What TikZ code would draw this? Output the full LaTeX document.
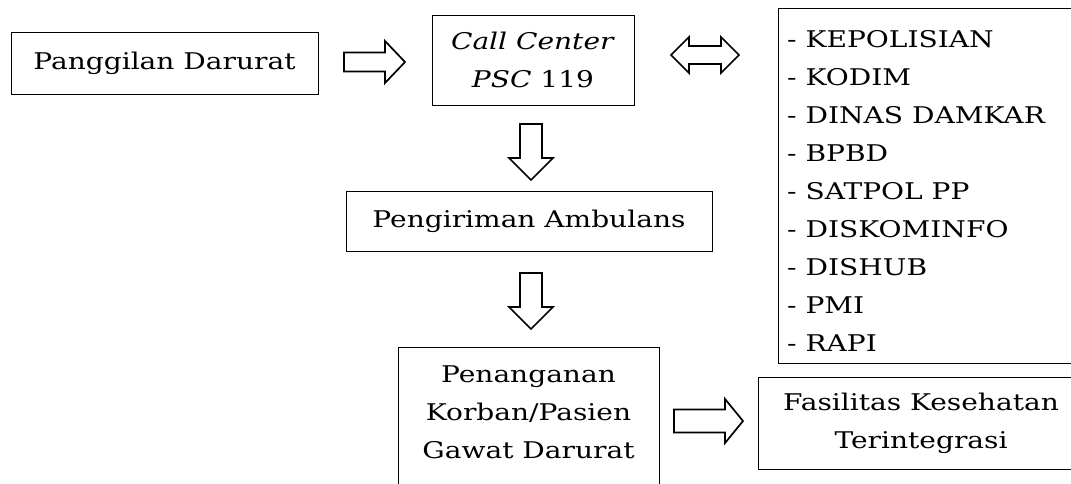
\documentclass[tikz,border=0pt]{standalone}
\usepackage{fontspec}
\setmainfont[FakeStretch=1.22]{DejaVu Serif}
\begin{document}
\begin{tikzpicture}[x=1pt,y=-1pt,
  box/.style={draw, line width=1pt, inner sep=0pt, align=center},
  txt/.style={inner sep=0pt},
  blk/.style={draw, line width=1.7pt, line join=miter},
  font=\fontsize{23}{38}\selectfont]
\useasboundingbox (0,0) rectangle (1071,483);
\clip (0,0) rectangle (1071,483);
% boxes
\node[box, minimum width=307pt, minimum height=62pt] (pd) at (164.5,63) {Panggilan Darurat};
\node[box, minimum width=202pt, minimum height=90pt] (cc) at (533,60) {\textit{Call Center}\\\textit{PSC} 119};
\node[box, minimum width=320pt, minimum height=355pt] (lst) at (938,185.5) {};
\node[txt, anchor=north west, align=left] (lsttext) at (787,30) {- KEPOLISIAN\\- KODIM\\- DINAS DAMKAR\\- BPBD\\- SATPOL PP\\- DISKOMINFO\\- DISHUB\\- PMI\\- RAPI};
\node[box, minimum width=366pt, minimum height=60pt] (pa) at (529,221) {Pengiriman Ambulans};
\node[box, minimum width=261pt, minimum height=146pt] (pk) at (528.5,420) {};
\node[txt, anchor=north, align=center] (pktext) at (528.5,366) {Penanganan\\Korban/Pasien\\Gawat Darurat};
\node[box, minimum width=326pt, minimum height=92pt] (fk) at (921,423) {Fasilitas Kesehatan\\Terintegrasi};
% block arrows
\draw[blk] (344,52.5) -- (385,52.5) -- (385,41) -- (405,62) -- (385,83) -- (385,71.5) -- (344,71.5) -- cycle;
\draw[blk] (671,55) -- (689,37) -- (689,46) -- (721,46) -- (721,37) -- (739,55) -- (721,73) -- (721,64) -- (689,64) -- (689,73) -- cycle;
\draw[blk] (520,124) -- (542,124) -- (542,158) -- (553,158) -- (531,180) -- (509,158) -- (520,158) -- cycle;
\draw[blk] (520,273) -- (542,273) -- (542,307) -- (553,307) -- (531,329) -- (509,307) -- (520,307) -- cycle;
\draw[blk] (674,409.5) -- (725,409.5) -- (725,399) -- (743,421) -- (725,443) -- (725,432.5) -- (674,432.5) -- cycle;
\end{tikzpicture}
\end{document}
